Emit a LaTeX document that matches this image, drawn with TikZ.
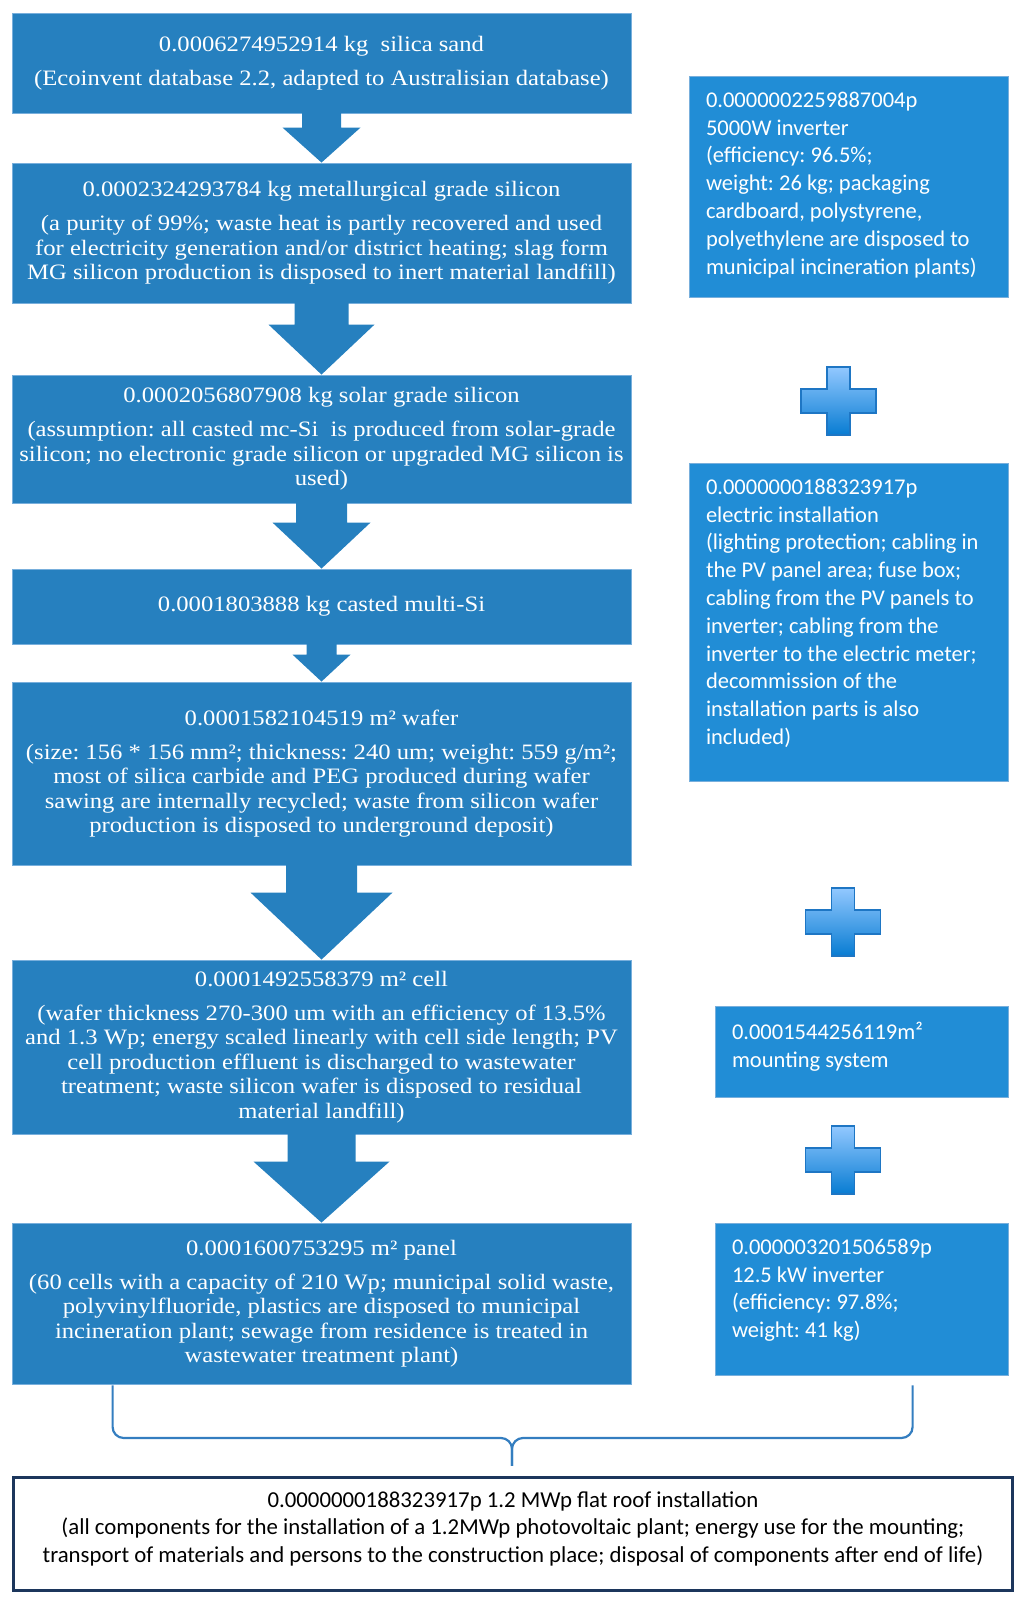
\documentclass[tikz,border=0pt]{standalone}
\usepackage{fontspec}
\usetikzlibrary{calc}
\newfontfamily\serifbox{Liberation Serif}[FakeStretch=1.12]
\newfontfamily\sansbox{Carlito}
\definecolor{stageblue}{RGB}{38,128,191}
\definecolor{stageedge}{RGB}{120,175,220}
\definecolor{partblue}{RGB}{33,141,214}
\definecolor{braceblue}{RGB}{52,126,192}
\definecolor{totalnavy}{RGB}{28,54,92}
\definecolor{plustop}{RGB}{146,200,255}
\definecolor{plusbot}{RGB}{8,124,210}
\definecolor{plusedge}{RGB}{30,118,196}
\def\blockarrow(#1)(#2)(#3:#4:#5){\fill[stageblue] ($(#1.south)+(-#3,1)$) -- ($(#1.south)+(#3,1)$) -- ($(#2.north)+(#3,#5)$) -- ($(#2.north)+(#4,#5)$) -- (#2.north) -- ($(#2.north)+(-#4,#5)$) -- ($(#2.north)+(-#3,#5)$) -- cycle;}
\def\plussign(#1){\shadedraw[plus] ($(#1)+(-11.5,34)$) -- ($(#1)+(11.5,34)$) -- ($(#1)+(11.5,12)$) -- ($(#1)+(37.5,12)$) -- ($(#1)+(37.5,-12)$) -- ($(#1)+(11.5,-12)$) -- ($(#1)+(11.5,-34)$) -- ($(#1)+(-11.5,-34)$) -- ($(#1)+(-11.5,-12)$) -- ($(#1)+(-37.5,-12)$) -- ($(#1)+(-37.5,12)$) -- ($(#1)+(-11.5,12)$) -- cycle;}
\newcommand{\parttext}[3]{\parbox[c][#2][t]{#1}{\vspace*{16pt}\raggedright #3}}
\tikzset{
	stage/.style={fill=stageblue, draw=stageedge, line width=0.8pt, text=white, align=center, inner sep=0pt, minimum width=619pt, font={\serifbox\fontsize{22pt}{24.5pt}\selectfont}},
	part/.style={fill=partblue, draw=stageedge, line width=0.8pt, text=white, inner xsep=17pt, inner ysep=0pt, font={\sansbox\fontsize{22.5pt}{27.8pt}\selectfont}},
	plus/.style={top color=plustop, bottom color=plusbot, draw=plusedge, line width=1.4pt},
	brace/.style={draw=braceblue, line width=2.2pt, rounded corners=11pt},
	total/.style={fill=white, draw=totalnavy, line width=3pt, inner sep=0pt, minimum width=999pt, minimum height=113pt, font={\sansbox\fontsize{22.8pt}{27.5pt}\selectfont}}
}

\begin{document}
\frenchspacing
\begin{tikzpicture}[x=1pt, y=1pt]
			%%%%% START %%%%%
			\useasboundingbox (0,0) rectangle (1024,1601);
			
			\node[stage, minimum height=100pt] (sand) at (321.5,1538) {0.0006274952914 kg~ silica sand\\[9.5pt]
				(Ecoinvent database 2.2, adapted to Australisian database)};
			\node[stage, minimum height=140pt] (mgsi) at (321.5,1368) {0.0002324293784 kg metallurgical grade silicon\\[9.5pt]
				(a purity of 99\%; waste heat is partly recovered and used\\
				for electricity generation and/or district heating; slag form\\
				MG silicon production is disposed to inert material landfill)};
			\node[stage, minimum height=128pt] (sgsi) at (321.5,1162) {0.0002056807908 kg solar grade silicon\\[9.5pt]
				(assumption: all casted mc-Si~ is produced from solar-grade\\
				silicon; no electronic grade silicon or upgraded MG silicon is\\
				used)};
			\node[stage, minimum height=75pt] (multi) at (321.5,994.5) {0.0001803888 kg casted multi-Si};
			\node[stage, minimum height=183pt] (wafer) at (321.5,827.5) {0.0001582104519 m² wafer\\[9.5pt]
				(size: 156 * 156 mm²; thickness: 240 um; weight: 559 g/m²;\\
				most of silica carbide and PEG produced during wafer\\
				sawing are internally recycled; waste from silicon wafer\\
				production is disposed to underground deposit)};
			\node[stage, minimum height=174pt] (cell) at (321.5,554) {0.0001492558379 m² cell\\[9.5pt]
				(wafer thickness 270-300 um with an efficiency of 13.5\%\\
				and 1.3 Wp; energy scaled linearly with cell side length; PV\\
				cell production effluent is discharged to wastewater\\
				treatment; waste silicon wafer is disposed to residual\\
				material landfill)};
			\node[stage, minimum height=161pt] (panel) at (321.5,297.5) {0.0001600753295 m² panel\\[9.5pt]
				(60 cells with a capacity of 210 Wp; municipal solid waste,\\
				polyvinylfluoride, plastics are disposed to municipal\\
				incineration plant; sewage from residence is treated in\\
				wastewater treatment plant)};
			
			\blockarrow(sand)(mgsi)(19.5:39:35)
			\blockarrow(mgsi)(sgsi)(27:53:50)
			\blockarrow(sgsi)(multi)(25.5:49:46)
			\blockarrow(multi)(wafer)(15:29:27)
			\blockarrow(wafer)(cell)(35.5:71:67)
			\blockarrow(cell)(panel)(34:68:61)
			
			\node[part] (inv5k) at (848.5,1414.5) {\parttext{285pt}{221pt}{0.0000002259887004p\\
				5000W inverter\\
				(efficiency: 96.5\%;\\
				weight: 26 kg; packaging\\
				cardboard, polystyrene,\\
				polyethylene are disposed to\\
				municipal incineration plants)}};
			\node[part] (elec) at (848.5,979) {\parttext{285pt}{318pt}{0.0000000188323917p\\
				electric installation\\
				(lighting protection; cabling in\\
				the PV panel area; fuse box;\\
				cabling from the PV panels to\\
				inverter; cabling from the\\
				inverter to the electric meter;\\
				decommission of the\\
				installation parts is also\\
				included)}};
			\node[part] (mount) at (861.5,549.5) {\parttext{259pt}{91pt}{0.0001544256119m²\\
				mounting system}};
			\node[part] (inv12k) at (861.5,302) {\parttext{259pt}{152pt}{0.000003201506589p\\
				12.5 kW inverter\\
				(efficiency: 97.8\%;\\
				weight: 41 kg)}};
			
			\coordinate (plusa) at (838.5,1200);
			\coordinate (plusb) at (843,679);
			\coordinate (plusc) at (843,441);
			\plussign(plusa)
			\plussign(plusb)
			\plussign(plusc)
			
			\node[total] (total) at (513,67) {\parbox{990pt}{\centering 0.0000000188323917p 1.2 MWp flat roof installation\\
				(all components for the installation of a 1.2MWp photovoltaic plant; energy use for the mounting;\\
				transport of materials and persons to the construction place; disposal of components after end of life)\par\vspace*{11pt}}};
			
			\coordinate (bl) at ($(panel.south west)+(101,-1)$);
			\coordinate (br) at ($(panel.south west)+(901,-1)$);
			\coordinate (bm) at ($(total.north)+(-1,38)$);
			\coordinate (bt) at ($(total.north)+(-1,10)$);
			\draw[brace] (bl) |- (bm) -- (bt);
			\draw[brace] (br) |- (bm) -- (bt);
			
			%%%%% END %%%%%
\end{tikzpicture}
\end{document}
